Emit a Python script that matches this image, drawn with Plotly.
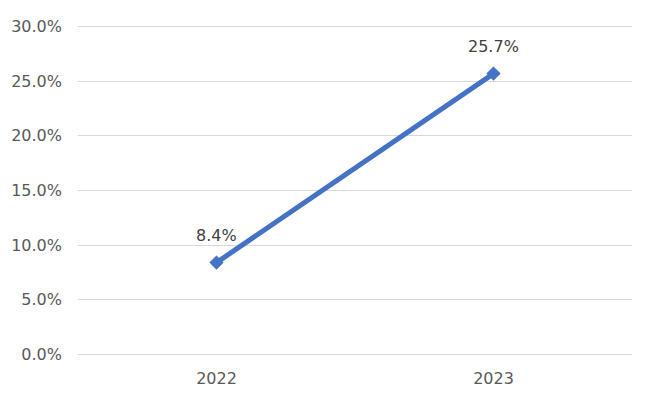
import plotly.graph_objects as go

years = ["2022", "2023"]
values = [8.4, 25.7]
labels = ["8.4%", "25.7%"]
y_ticks = [0, 5, 10, 15, 20, 25, 30]
y_tick_labels = ["0.0%", "5.0%", "10.0%", "15.0%", "20.0%", "25.0%", "30.0%"]

fig = go.Figure(go.Scatter(
    x=years, y=values, mode="lines+markers",
    line=dict(color="#4472C4", width=5),
    marker=dict(symbol="diamond", size=11, color="#4472C4"),
    cliponaxis=False, hoverinfo="skip",
))

for i, (y, t) in enumerate(zip(values, labels)):
    fig.add_annotation(x=i, y=y, xref="x", yref="y", text=t, showarrow=False, yshift=27,
                       font=dict(family="DejaVu Sans", size=16, color="#404040"))

# page body has an 8px default margin; margins compensate for it
fig.update_layout(
    width=650, height=406,
    margin=dict(l=70, r=26, t=17, b=58, autoexpand=False),
    paper_bgcolor="white", plot_bgcolor="white",
    showlegend=False,
    font=dict(family="DejaVu Sans", size=16, color="#595959"),
)
fig.update_xaxes(type="category", range=[-0.5, 1.5], showgrid=False, showline=False,
                 ticks="", zeroline=False, automargin=False, ticklabelstandoff=11,
                 tickfont=dict(size=16, color="#595959"))
fig.update_yaxes(range=[-0.15, 30.15], tickvals=y_ticks, ticktext=y_tick_labels,
                 showgrid=True, gridcolor="#D9D9D9", gridwidth=1, zeroline=False,
                 showline=False, ticks="", ticklabelstandoff=15, automargin=False,
                 tickfont=dict(size=16, color="#595959"))

fig.write_html("out.html")
